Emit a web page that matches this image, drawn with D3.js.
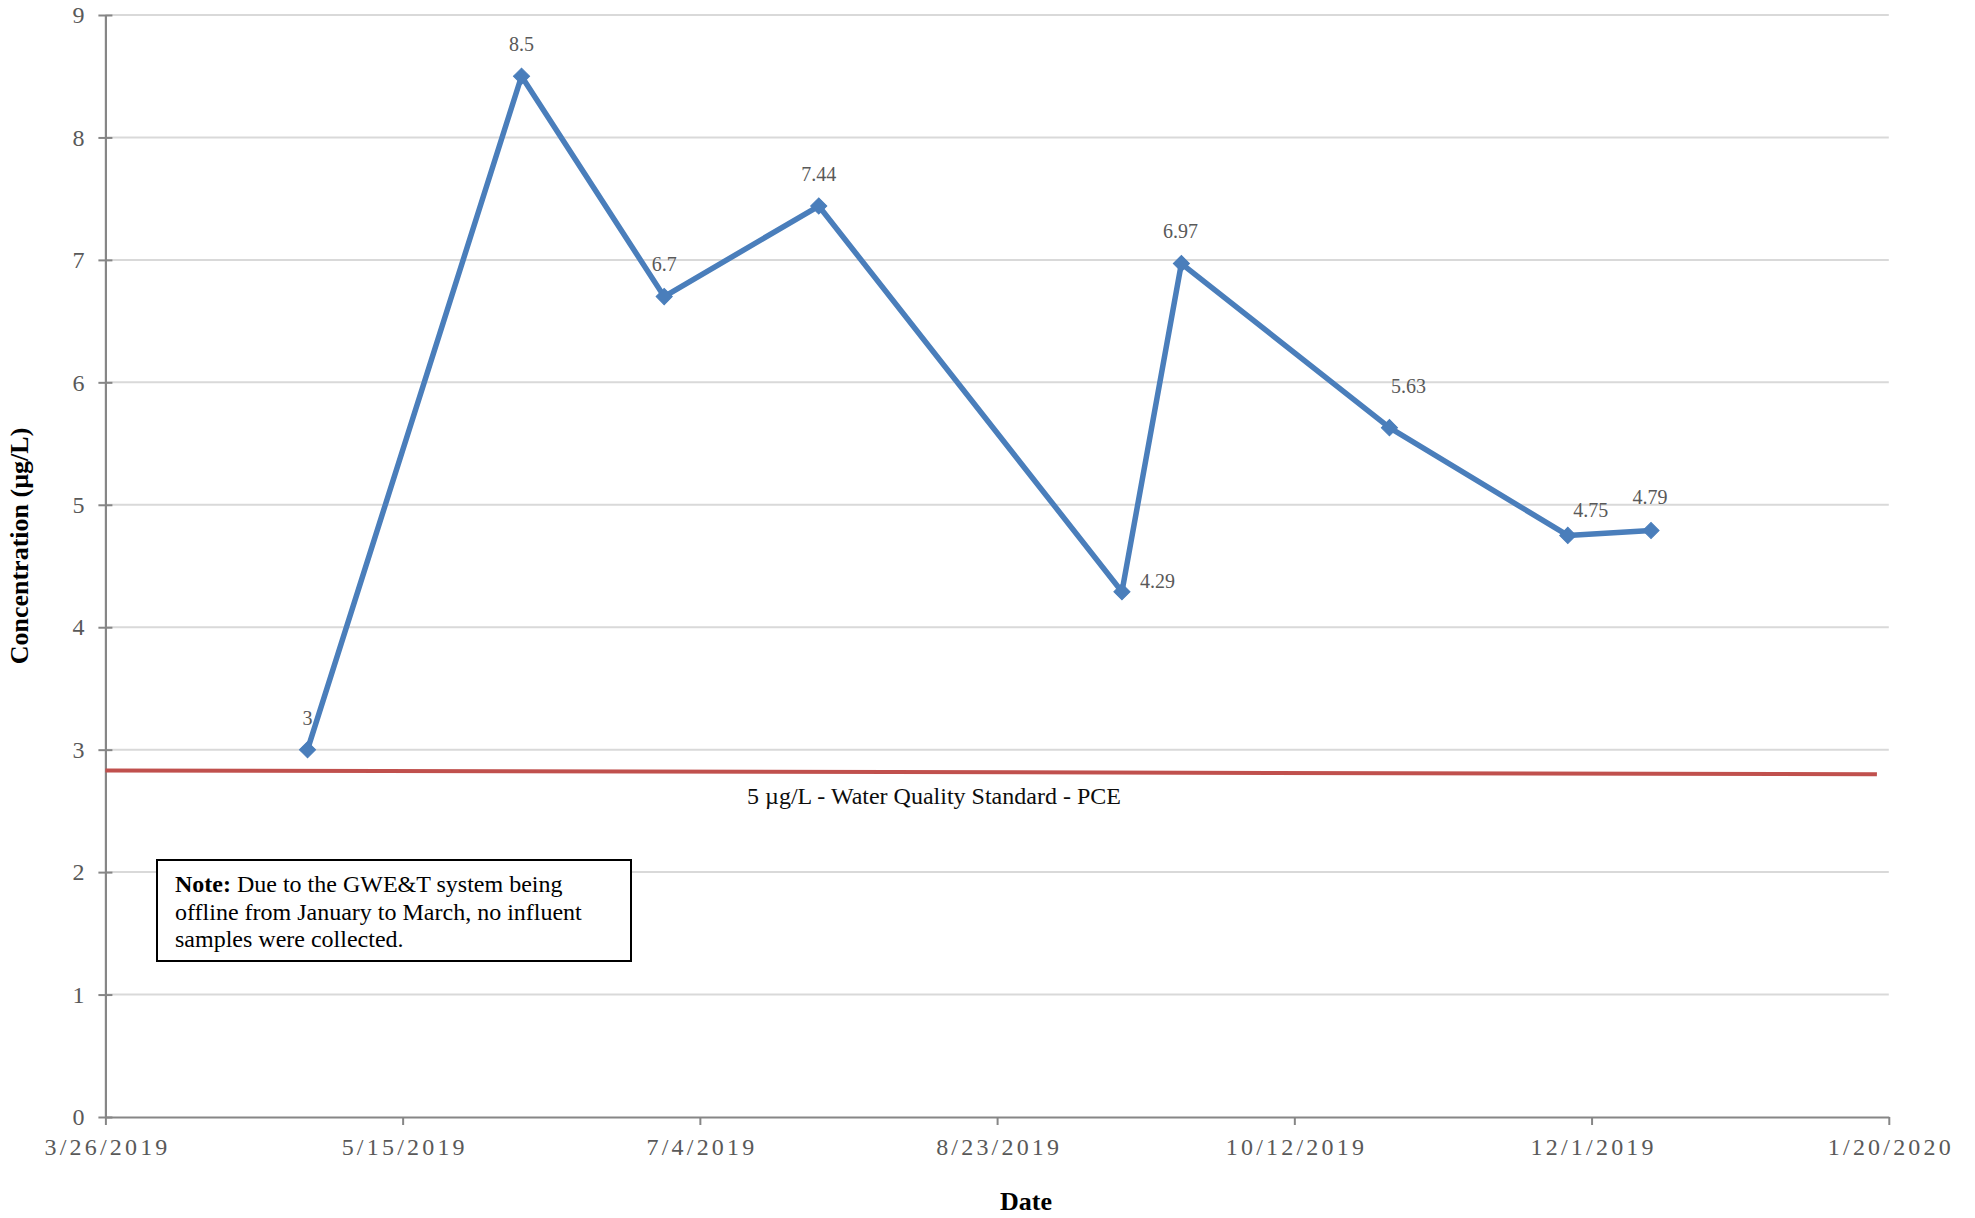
<!DOCTYPE html>
<html>
<head>
<meta charset="utf-8">
<script src="https://cdn.jsdelivr.net/npm/d3@7"></script>
<style>
  html, body { margin: 0; padding: 0; background: #ffffff; }
  svg { display: block; }
  text { font-family: "Liberation Serif", "Times New Roman", "DejaVu Serif", serif; }
</style>
</head>
<body>
<svg id="chart" width="1975" height="1218"></svg>
<script>
// ---------------- data ----------------
const sampleDates = ["2019-04-29", "2019-06-04", "2019-06-28", "2019-07-24", "2019-09-13",
                     "2019-09-23", "2019-10-28", "2019-11-27", "2019-12-11"];
const concentrations = [3, 8.5, 6.7, 7.44, 4.29, 6.97, 5.63, 4.75, 4.79];
const dataLabels = ["3", "8.5", "6.7", "7.44", "4.29", "6.97", "5.63", "4.75", "4.79"];

const xTickLabels = ["3/26/2019", "5/15/2019", "7/4/2019", "8/23/2019", "10/12/2019", "12/1/2019", "1/20/2020"];
const yTickValues = [0, 1, 2, 3, 4, 5, 6, 7, 8, 9];

const standardDates = ["2019-03-26", "2020-01-18"];
const standardValues = [2.83, 2.80];
const standardLabel = "5 \u00b5g/L - Water Quality Standard - PCE";

const noteLines = [
  [{ t: "Note:", b: true }, { t: " Due to the GWE&T system being", b: false }],
  [{ t: "offline from January to March, no influent", b: false }],
  [{ t: "samples were collected.", b: false }]
];

const xTitle = "Date";
const yTitle = "Concentration (\u00b5g/L)";

// label placement (offset from point, in px) and anchor
const labelPlacement = [
  [0, -25, "middle"], [0, -25, "middle"], [0, -26, "middle"], [0, -25, "middle"],
  [18, -4, "start"], [-1, -26, "middle"], [19, -35, "middle"], [23, -18, "middle"], [-1, -26, "middle"]
];

// ---------------- layout ----------------
const parseISO = d3.utcParse("%Y-%m-%d");
const parseMDY = d3.utcParse("%-m/%-d/%Y");
const xTicks = xTickLabels.map(parseMDY);

const plotLeft = 105.4, plotRight = 1888.8, plotTop = 15, plotBottom = 1117;

const x = d3.scaleUtc()
  .domain([xTicks[0], xTicks[xTicks.length - 1]])
  .range([plotLeft, plotRight]);
const y = d3.scaleLinear().domain([0, 9]).range([plotBottom, plotTop]);

const svg = d3.select("#chart");
const axisColor = "#868686";
const blue = "#4a7ebb";

// gridlines
svg.append("g")
  .selectAll("line")
  .data(yTickValues.filter(v => v > 0))
  .join("line")
  .attr("x1", plotLeft).attr("x2", plotRight)
  .attr("y1", d => y(d)).attr("y2", d => y(d))
  .attr("stroke", "#d9d9d9").attr("stroke-width", 2);

// y axis
const yAxis = svg.append("g")
  .attr("transform", `translate(${plotLeft},0)`)
  .call(d3.axisLeft(y).tickValues(yTickValues).tickSize(7).tickPadding(14).tickSizeOuter(0).tickFormat(d3.format("d")));
yAxis.select(".domain").attr("stroke", axisColor).attr("stroke-width", 2.2);
yAxis.selectAll(".tick line").attr("x1", 7).attr("x2", -7).attr("stroke", axisColor).attr("stroke-width", 2);
yAxis.selectAll(".tick text").attr("fill", "#595959").style("font-size", "24px");

// x axis
const xAxis = svg.append("g")
  .attr("transform", `translate(0,${plotBottom})`)
  .call(d3.axisBottom(x).tickValues(xTicks).tickSize(8).tickSizeOuter(0)
    .tickFormat((d, i) => xTickLabels[i]));
xAxis.select(".domain").attr("stroke", axisColor).attr("stroke-width", 2.2);
xAxis.selectAll(".tick line").attr("stroke", axisColor).attr("stroke-width", 2);
xAxis.selectAll(".tick text")
  .attr("fill", "#595959")
  .attr("y", 38).attr("dy", null)
  .attr("dx", 1.6)
  .style("font-size", "24px")
  .style("letter-spacing", "3.2px");

// standard line
const stdData = standardDates.map((d, i) => ({ date: parseISO(d), v: standardValues[i] }));
svg.append("path")
  .datum(stdData)
  .attr("d", d3.line().x(d => x(d.date)).y(d => y(d.v)))
  .attr("fill", "none")
  .attr("stroke", "#c0504d")
  .attr("stroke-width", 4);

svg.append("text")
  .attr("x", 934).attr("y", 804)
  .attr("text-anchor", "middle")
  .attr("fill", "#0d0d0d")
  .style("font-size", "24px")
  .text(standardLabel);

// data series
const series = sampleDates.map((d, i) => ({ date: parseISO(d), v: concentrations[i], label: dataLabels[i], pl: labelPlacement[i] }));

svg.append("path")
  .datum(series)
  .attr("d", d3.line().x(d => x(d.date)).y(d => y(d.v)))
  .attr("fill", "none")
  .attr("stroke", blue)
  .attr("stroke-width", 5.5)
  .attr("stroke-linejoin", "round");

svg.append("g")
  .selectAll("path")
  .data(series)
  .join("path")
  .attr("d", d3.symbol(d3.symbolSquare, 130))
  .attr("transform", d => `translate(${x(d.date)},${y(d.v)}) rotate(45)`)
  .attr("fill", blue)
  .attr("stroke", blue)
  .attr("stroke-width", 1);

svg.append("g")
  .selectAll("text")
  .data(series)
  .join("text")
  .attr("x", d => x(d.date) + d.pl[0])
  .attr("y", d => y(d.v) + d.pl[1])
  .attr("text-anchor", d => d.pl[2])
  .attr("fill", "#595959")
  .style("font-size", "20px")
  .text(d => d.label);

// note box
svg.append("rect")
  .attr("x", 157).attr("y", 860)
  .attr("width", 474).attr("height", 101)
  .attr("fill", "#ffffff")
  .attr("stroke", "#000000")
  .attr("stroke-width", 2);

const note = svg.append("text")
  .attr("fill", "#000000")
  .style("font-size", "24px");
noteLines.forEach((line, i) => {
  line.forEach((seg, j) => {
    const s = note.append("tspan").text(seg.t).style("font-weight", seg.b ? "bold" : "normal");
    if (j === 0) s.attr("x", 175).attr("y", 892 + i * 27.5);
  });
});

// axis titles
svg.append("text")
  .attr("x", 1026).attr("y", 1210)
  .attr("text-anchor", "middle")
  .attr("fill", "#000000")
  .style("font-size", "26px")
  .style("font-weight", "bold")
  .text(xTitle);

svg.append("text")
  .attr("transform", "translate(28,546) rotate(-90)")
  .attr("text-anchor", "middle")
  .attr("fill", "#000000")
  .style("font-size", "26px")
  .style("font-weight", "bold")
  .text(yTitle);
</script>
</body>
</html>
